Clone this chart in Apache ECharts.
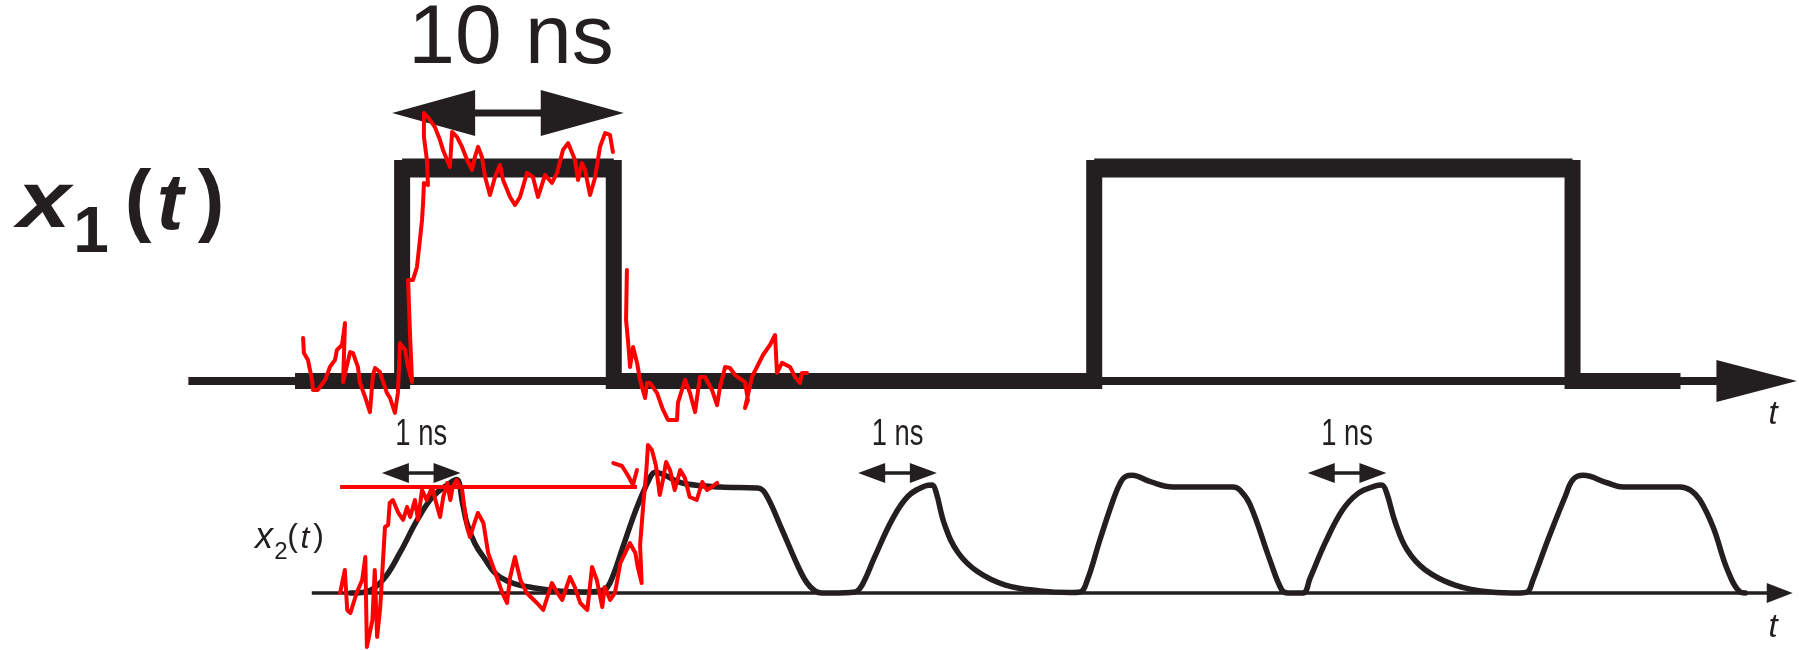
<!DOCTYPE html>
<html>
<head>
<meta charset="utf-8">
<script src="https://cdn.jsdelivr.net/npm/echarts@6/dist/echarts.min.js"></script>
<style>
  html, body { margin: 0; padding: 0; background: #ffffff; }
  #chart { width: 1799px; height: 650px; }
</style>
</head>
<body>
<div id="chart"></div>
<script>
// ---------- x1(t): 10 ns pulse train (time in ns, level 0/1) ----------
const x1Range = [-19, 66];
const x1Time  = [-5.06, 0, 0, 10, 10, 32.7, 32.7, 55.3, 55.3, 60.4];
const x1Level = [0, 0, 1, 1, 0, 0, 1, 1, 0, 0];
const x1Axis  = [-10.1, 62.1];          // thin time axis, start -> arrow base
const x1AxisTip = 65.9;
const x1Width = [0, 10];                // the "10 ns" span
const x1WidthLevel = 1.258;
const x1WidthText = '10 ns';

// noisy version of x1 (hand-sketched overlay)
const x1NoiseRise = [
  [-4.68, 0.202], [-4.64, 0.131], [-4.45, 0.099], [-4.26, 0.005], [-4.21, -0.042], [-3.98, -0.042],
  [-3.64, 0.005], [-3.41, 0.066], [-3.17, 0.099], [-3.08, 0.146], [-2.84, 0.169], [-2.70, 0.272],
  [-2.79, -0.005], [-2.46, 0.136], [-2.32, 0.131], [-2.09, 0.066], [-1.99, -0.009], [-1.75, -0.075],
  [-1.52, -0.146], [-1.38, 0.028], [-1.28, 0.061], [-1.05, 0.042], [-0.72, -0.056], [-0.57, -0.080],
  [-0.34, -0.150], [-0.20, -0.056], [-0.10, 0.178], [0.14, 0.146], [0.28, 0.066], [0.47, -0.005],
  [0.37, 0.225], [0.28, 0.474], [0.51, 0.474], [0.70, 0.535], [0.84, 0.662], [0.94, 0.756],
  [0.99, 0.836], [1.03, 0.930], [1.22, 0.920], [1.17, 1.038], [1.03, 1.146], [1.03, 1.258],
  [1.22, 1.239], [1.55, 1.192], [1.79, 1.131], [1.93, 1.085], [2.26, 1.005], [2.36, 1.169],
  [2.59, 1.146], [2.83, 1.099], [3.07, 1.038], [3.30, 0.991], [3.44, 1.052], [3.59, 1.099],
  [3.77, 1.052], [3.92, 0.958], [4.15, 0.873], [4.39, 0.958], [4.62, 1.014], [4.77, 0.944],
  [5.10, 0.864], [5.33, 0.826], [5.57, 0.864], [5.90, 0.977], [6.18, 0.958], [6.42, 0.864],
  [6.75, 0.967], [7.08, 0.930], [7.32, 0.977], [7.60, 1.085], [7.84, 1.117], [8.17, 1.038],
  [8.31, 0.944], [8.50, 1.023], [8.64, 0.991], [8.88, 0.873], [9.11, 0.953], [9.35, 1.099],
  [9.59, 1.164], [9.82, 1.155], [9.96, 1.075]
];
const x1NoiseFall = [
  [10.62, 0.521], [10.58, 0.286], [10.67, 0.192], [10.77, 0.066], [10.91, 0.160], [11.10, 0.085],
  [11.24, 0.005], [11.48, -0.080], [11.57, -0.009], [11.71, -0.009], [12.04, -0.056], [12.33, -0.136],
  [12.56, -0.183], [12.99, -0.183], [13.03, -0.103], [13.37, 0.005], [13.60, -0.056], [13.84, -0.146],
  [14.07, 0.019], [14.31, 0.019], [14.64, -0.042], [14.88, -0.113], [15.02, -0.028], [15.26, 0.066],
  [15.49, 0.061], [15.73, 0.028], [16.20, -0.005], [16.34, -0.089], [16.20, -0.127], [16.53, 0.019],
  [17.05, 0.122], [17.38, 0.169], [17.62, 0.216], [17.71, 0.038], [17.95, 0.085], [18.33, 0.066],
  [18.56, 0.019], [18.80, -0.009], [18.89, 0.038], [19.13, 0.038]
];

// ---------- x2(t): band-limited response (time in ns, level) ----------
const x2Range = [-4.85, 18];
const x2Axis  = [-0.89, 17.59];
const x2AxisTip = 17.92;
const x2Bits = [[0, 1], [6.05, 7.05], [11.76, 12.76]];   // "1 ns" spans
const x2BitLevel = 1.132;
const x2BitText = '1 ns';
const x2Curve = [
  // short pulse
  [-0.40, 0], [-0.21, 0.01], [0.01, 0.12], [0.23, 0.38], [0.45, 0.69], [0.65, 0.91], [0.87, 1.04],
  [0.95, 1.07], [1.03, 0.83], [1.08, 0.66], [1.18, 0.47], [1.29, 0.34], [1.50, 0.15], [1.92, 0.05],
  [2.56, 0.01], [2.77, 0.02],
  // long pulse
  [2.86, 0.05], [2.94, 0.17], [3.06, 0.43], [3.24, 0.81], [3.41, 1.095], [3.47, 1.14], [3.57, 1.12],
  [3.70, 1.07], [3.85, 1.03], [4.30, 1.00], [4.77, 0.99], [4.87, 0.94], [5.07, 0.62], [5.29, 0.245],
  [5.40, 0.095], [5.50, 0.02], [5.59, 0], [5.72, 0],
  // short pulse
  [6.01, 0.01], [6.10, 0.075], [6.26, 0.34], [6.48, 0.69], [6.68, 0.91], [6.90, 1.01], [6.99, 1.02],
  [7.04, 0.95], [7.15, 0.64], [7.32, 0.38], [7.57, 0.20], [7.92, 0.075], [8.36, 0.02], [8.74, 0.005],
  [8.87, 0.01],
  // long pulse
  [8.96, 0.12], [9.12, 0.50], [9.29, 0.88], [9.38, 1.04], [9.45, 1.10], [9.53, 1.11], [9.76, 1.05],
  [10.05, 1.00], [10.81, 1.00], [10.90, 0.97], [11.03, 0.83], [11.28, 0.31], [11.43, 0.03],
  [11.51, 0], [11.70, 0],
  // short pulse
  [11.79, 0.14], [11.98, 0.47], [12.20, 0.78], [12.40, 0.94], [12.62, 1.01], [12.70, 1.02],
  [12.76, 0.95], [12.87, 0.67], [13.02, 0.41], [13.25, 0.22], [13.63, 0.075], [14.08, 0.01],
  [14.46, 0], [14.55, 0.01],
  // long pulse
  [14.62, 0.12], [14.81, 0.50], [15.03, 0.91], [15.13, 1.07], [15.26, 1.11], [15.56, 1.04],
  [15.77, 1.00], [16.49, 1.00], [16.62, 0.97], [16.74, 0.88], [16.91, 0.62], [17.09, 0.22],
  [17.25, 0.01], [17.32, 0]
];

// decision threshold and noisy version of x2
const x2Threshold = [[-0.53, 1.0], [3.24, 1.0]];
const x2Noise = [
  [-0.53, 0], [-0.47, 0.217], [-0.44, -0.160], [-0.40, -0.189], [-0.32, 0], [-0.25, 0.123],
  [-0.21, 0.340], [-0.19, -0.509], [-0.12, -0.255], [-0.09, 0.217], [-0.06, -0.415], [-0.02, -0.132],
  [0.00, 0.123], [0.04, 0.623], [0.08, 0.642], [0.10, 0.849], [0.14, 0.877], [0.21, 0.755],
  [0.27, 0.689], [0.32, 0.811], [0.36, 0.717], [0.42, 0.877], [0.46, 0.689], [0.51, 0.972],
  [0.57, 0.877], [0.64, 1.000], [0.68, 0.877], [0.74, 0.717], [0.78, 0.906], [0.83, 1.038],
  [0.87, 0.877], [0.90, 1.000], [0.95, 1.066], [1.02, 0.972], [1.08, 0.623], [1.12, 0.528],
  [1.16, 0.623], [1.22, 0.755], [1.29, 0.660], [1.35, 0.377], [1.46, 0.151], [1.53, 0],
  [1.59, -0.094], [1.63, 0.151], [1.69, 0.340], [1.76, 0.123], [1.84, 0], [1.97, -0.094],
  [2.05, -0.160], [2.16, 0.094], [2.23, 0], [2.29, -0.066], [2.39, 0.151], [2.45, 0.057],
  [2.52, -0.094], [2.61, -0.160], [2.67, 0.245], [2.73, 0.123], [2.80, -0.132], [2.83, 0.057],
  [2.90, -0.066], [2.96, 0], [3.03, 0.283], [3.11, 0.406], [3.15, 0.472], [3.22, 0.377],
  [3.25, 0.245], [3.30, 0.094], [3.28, 0.453], [3.32, 0.830], [3.36, 1.160], [3.38, 1.396],
  [3.43, 1.349], [3.48, 1.208], [3.53, 0.925], [3.57, 1.066], [3.61, 1.236], [3.66, 1.160],
  [3.72, 0.972], [3.79, 1.160], [3.85, 1.085], [3.91, 0.906], [4.00, 0.877], [4.07, 1.047],
  [4.13, 0.972], [4.19, 1.000], [4.26, 1.038]
];
const x2NoiseTail = [[2.94, 1.226], [3.05, 1.198], [3.13, 1.104], [3.19, 1.019], [3.24, 1.160]];

// ---------- drawing ----------
const FONT = '"Liberation Sans", Arial, Helvetica, sans-serif';
const INK = '#231f20';
const RED = '#ff0000';

const chart = echarts.init(document.getElementById('chart'), null, { renderer: 'canvas' });

function line(axis, data, width, color, extra) {
  return Object.assign({
    type: 'line', xAxisIndex: axis, yAxisIndex: axis, data: data,
    symbol: 'none', clip: false, silent: true, animation: false,
    lineStyle: { width: width, color: color, cap: 'butt', join: 'miter' }
  }, extra || {});
}
function sketch(axis, data) {
  return line(axis, data, 4, RED, {
    z: 5, lineStyle: { width: 4, color: RED, cap: 'round', join: 'round' }
  });
}

// filled triangular arrowhead from [base, tip, level]
function arrowHead(axis, base, tip, level, half) {
  return {
    type: 'custom', xAxisIndex: axis, yAxisIndex: axis, clip: false, silent: true, animation: false,
    data: [[base, tip, level]], encode: { x: [0, 1], y: 2 },
    renderItem: function (params, api) {
      const b = api.coord([api.value(0), api.value(2)]);
      const t = api.coord([api.value(1), api.value(2)]);
      return { type: 'polygon', shape: { points: [[t[0], t[1]], [b[0], b[1] - half], [b[0], b[1] + half]] },
               style: { fill: INK } };
    }
  };
}

// double-headed dimension arrow with its caption
function dimension(axis, spans, level, cfg) {
  return {
    type: 'custom', xAxisIndex: axis, yAxisIndex: axis, clip: false, silent: true, animation: false,
    data: spans.map(function (s) { return [s[0], s[1], level]; }), encode: { x: [0, 1], y: 2 },
    renderItem: function (params, api) {
      const a = api.coord([api.value(0), api.value(2)]);
      const b = api.coord([api.value(1), api.value(2)]);
      const y = a[1], l = a[0] - cfg.over, r = b[0] + cfg.over, L = cfg.head, H = cfg.half;
      return {
        type: 'group',
        children: [
          { type: 'rect', shape: { x: l + L - 1, y: y - cfg.shaft / 2, width: r - l - 2 * L + 2, height: cfg.shaft },
            style: { fill: INK } },
          { type: 'polygon', shape: { points: [[l, y], [l + L, y - H], [l + L, y + H]] }, style: { fill: INK } },
          { type: 'polygon', shape: { points: [[r, y], [r - L, y - H], [r - L, y + H]] }, style: { fill: INK } },
          { type: 'text', x: (l + r) / 2 + cfg.dx, y: y + cfg.dy, scaleX: cfg.scaleX,
            style: { text: cfg.text, fontFamily: FONT, fontSize: cfg.size, fill: INK,
                     align: 'center', verticalAlign: 'middle' } }
        ]
      };
    }
  };
}

function glyph(text, x, y, size, opt) {
  opt = opt || {};
  return {
    type: 'text', x: x, y: y, scaleX: opt.scaleX || 1, silent: true,
    style: { text: text, fontFamily: FONT, fontSize: size, fill: INK,
             fontWeight: opt.weight || 'normal', fontStyle: opt.style || 'normal',
             align: 'center', verticalAlign: 'middle' }
  };
}

const x1Wave = x1Time.map(function (t, i) { return [t, x1Level[i]]; });
const plateaus = [];
for (let i = 0; i + 1 < x1Time.length; i++) {
  if (x1Level[i] === 1 && x1Level[i + 1] === 1) {
    plateaus.push(line(0, [[x1Time[i], 1], [x1Time[i + 1], 1]], 19, INK));
  }
}

const option = {
  backgroundColor: '#ffffff',
  animation: false,
  grid: [
    { left: 0, right: 0, top: 168, height: 213 },
    { left: 0, right: 0, top: 487, height: 106 }
  ],
  xAxis: [
    { type: 'value', gridIndex: 0, min: x1Range[0], max: x1Range[1], show: false },
    { type: 'value', gridIndex: 1, min: x2Range[0], max: x2Range[1], show: false }
  ],
  yAxis: [
    { type: 'value', gridIndex: 0, min: 0, max: 1, show: false },
    { type: 'value', gridIndex: 1, min: 0, max: 1, show: false }
  ],
  series: [
    line(0, [[x1Axis[0], 0], [x1Axis[1] + 0.2, 0]], 8, INK),
    arrowHead(0, x1Axis[1], x1AxisTip, 0, 21),
    line(0, x1Wave, 16, INK),
  ].concat(plateaus).concat([
    dimension(0, [x1Width], x1WidthLevel,
      { text: x1WidthText, over: 10, head: 83, half: 23, shaft: 7, size: 84, dx: 3, dy: -73, scaleX: 1 }),
    sketch(0, x1NoiseRise),
    sketch(0, x1NoiseFall),

    line(1, [[x2Axis[0], 0], [x2Axis[1] + 0.05, 0]], 3.5, INK),
    arrowHead(1, x2Axis[1], x2AxisTip, 0, 10),
    line(1, x2Curve, 5.5, INK, { smooth: 0.4,
      lineStyle: { width: 5.5, color: INK, cap: 'round', join: 'round' } }),
    dimension(1, x2Bits, x2BitLevel,
      { text: x2BitText, over: 0, head: 27, half: 10, shaft: 3.5, size: 36, dx: 0, dy: -38, scaleX: 0.76 }),
    line(1, x2Threshold, 4, RED, { z: 5 }),
    sketch(1, x2Noise),
    sketch(1, x2NoiseTail)
  ]),
  graphic: [
    glyph('x', 44, 205, 80, { weight: 'bold', style: 'italic', scaleX: 1.2 }),
    glyph('1', 91, 234, 64, { weight: 'bold' }),
    glyph('(', 138, 204, 80, { weight: 'bold' }),
    glyph('t', 170, 207, 80, { weight: 'bold', style: 'italic' }),
    glyph(')', 211, 204, 80, { weight: 'bold' }),

    glyph('x', 264, 538, 36, { style: 'italic' }),
    glyph('2', 281, 552, 24),
    glyph('(', 292.5, 537, 32),
    glyph('t', 305, 539, 32, { style: 'italic' }),
    glyph(')', 318.5, 537, 32),

    glyph('t', 1773, 415, 33, { style: 'italic' }),
    glyph('t', 1773, 628, 33, { style: 'italic' })
  ]
};

chart.setOption(option);
</script>
</body>
</html>
